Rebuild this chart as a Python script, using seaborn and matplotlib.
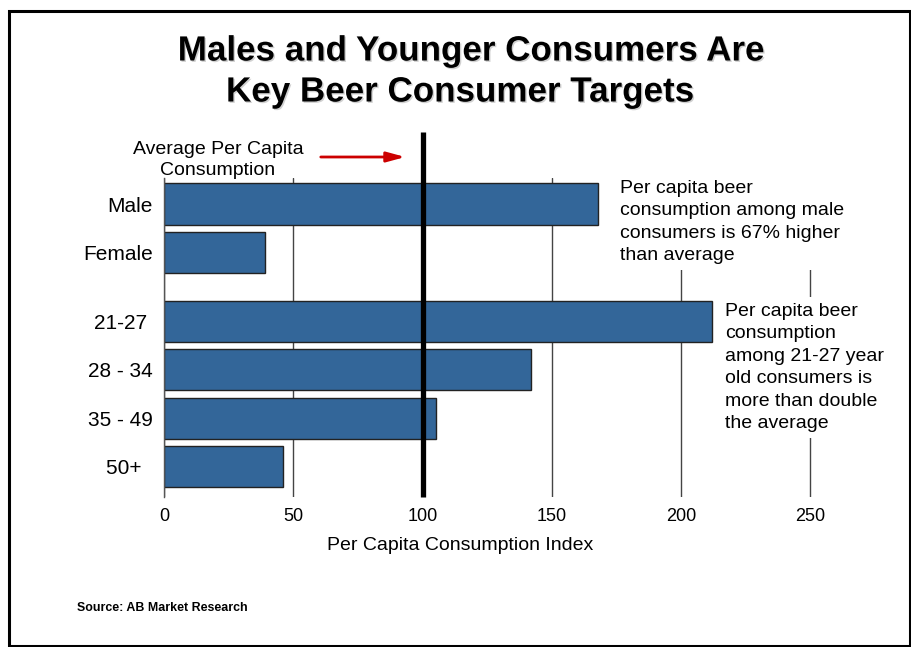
import matplotlib
matplotlib.use("Agg")
import matplotlib.pyplot as plt
import matplotlib.patheffects as pe
from matplotlib.patches import Rectangle
import seaborn as sns
import pandas as pd

# ---- data ----
categories = ["Male", "Female", "21-27", "28 - 34", "35 - 49", "50+"]
values = [168, 39, 212, 142, 105, 46]
groups = ["Gender", "Gender", "Age", "Age", "Age", "Age"]
x_ticks = [0, 50, 100, 150, 200, 250]
average_value = 100

title_lines = ["Males and Younger Consumers Are", "Key Beer Consumer Targets"]
note_male = "Per capita beer\nconsumption among male\nconsumers is 67% higher\nthan average"
note_age = "Per capita beer\nconsumption\namong 21-27 year\nold consumers is\nmore than double\nthe average"
avg_label = "Average Per Capita\nConsumption"
x_label = "Per Capita Consumption Index"
source = "Source: AB Market Research"

# positions with extra gap between groups
GAP = 0.42
positions = []
p = 0.0
prev = None
for g in groups:
    if prev is not None:
        p += 1 + (GAP if g != prev else 0)
    positions.append(p)
    prev = g

df = pd.DataFrame({"category": categories, "value": values, "pos": positions})

sns.set_style("white")
plt.rcParams["font.family"] = ["Liberation Sans", "DejaVu Sans"]
plt.rcParams["text.color"] = "black"
plt.rcParams["axes.labelcolor"] = "black"

W, H = 912, 647
fig = plt.figure(figsize=(W / 100, H / 100), dpi=100)

ax_left, ax_right, ax_top, ax_bottom = 164, 812, 178, 497
ax = fig.add_axes([ax_left / W, 1 - ax_bottom / H, (ax_right - ax_left) / W, (ax_bottom - ax_top) / H])

sns.barplot(data=df, x="value", y="pos", orient="h", native_scale=True,
            color="#336699", saturation=1, edgecolor="#222222", linewidth=1,
            width=0.85, errorbar=None, ax=ax)

pitch = 48.5
male_c = 204
ax.set_ylim((ax_bottom - male_c) / pitch, -(male_c - ax_top) / pitch)
ax.set_xlim(0, 250.6)

ax.set_yticks(positions)
ylabels = ["Male", "Female", "21-27 ", "28 - 34", "35 - 49", "50+  "]
ax.set_yticklabels(ylabels)
ax.set_xticks(x_ticks)
ax.set_xticklabels([str(t) for t in x_ticks])
ax.tick_params(axis="y", length=0, pad=8, labelsize=15, colors="black")
ax.tick_params(axis="x", length=0, pad=8, labelsize=13, colors="black")
ax.set_ylabel("")
ax.set_xlabel("")
fig.text(460 / W, 1 - 545 / H, x_label, ha="center", va="center", fontsize=14)

ax.xaxis.grid(True, color="#444444", linewidth=1)
ax.yaxis.grid(False)
ax.set_axisbelow(True)
for s in ["top", "right", "bottom"]:
    ax.spines[s].set_visible(False)
ax.spines["left"].set_color("#555555")
ax.spines["left"].set_linewidth(1)

# average line
ax.axvline(average_value, ymin=0, ymax=(ax_bottom - 132) / (ax_bottom - ax_top),
           color="black", linewidth=3.8, clip_on=False, zorder=5,
           solid_capstyle="butt")

# average label and arrow
fig.text(218 / W, 1 - 160 / H, avg_label, ha="center", va="center", fontsize=14,
         linespacing=1.35)
ax.annotate("", xy=(408 / W, 1 - 157 / H), xytext=(318 / W, 1 - 157 / H),
            xycoords="figure fraction", textcoords="figure fraction",
            arrowprops=dict(arrowstyle="-|>,head_length=1.1,head_width=0.3",
                            color="#cc0000", lw=2))

# notes
box = dict(facecolor="white", edgecolor="none", pad=4)
fig.text(620 / W, 1 - 180 / H, note_male, ha="left", va="top", fontsize=14,
         linespacing=1.42, bbox=box, zorder=10)
fig.text(725 / W, 1 - 303 / H, note_age, ha="left", va="top", fontsize=14,
         linespacing=1.42, bbox=box, zorder=10)

# title
shadow = [pe.withSimplePatchShadow(offset=(1, -1), shadow_rgbFace="#999999", alpha=0.45)]
fig.text(471 / W, 1 - 51 / H, title_lines[0], ha="center", va="center", fontsize=25.2,
         fontweight="bold", path_effects=shadow)
fig.text(460 / W, 1 - 92 / H, title_lines[1], ha="center", va="center", fontsize=25.2,
         fontweight="bold", path_effects=shadow)

# source
fig.text(77 / W, 1 - 608 / H, source, ha="left", va="center", fontsize=8.9, fontweight="bold")

# border
fig.patches.append(Rectangle((9 / W, 1.5 / H), 901.5 / W, 634.5 / H, transform=fig.transFigure,
                             fill=False, edgecolor="black", linewidth=2.2))

fig.savefig("out.png", dpi=100)
